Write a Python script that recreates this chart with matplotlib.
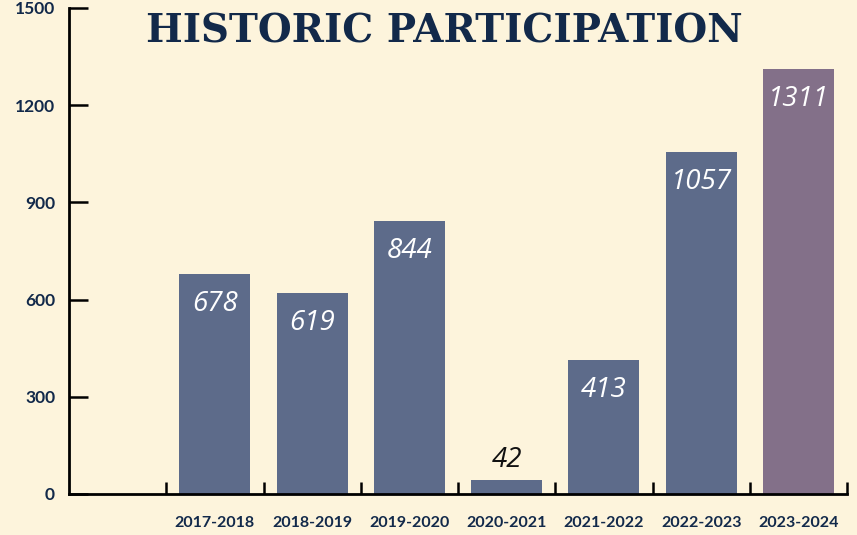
import matplotlib
matplotlib.use("Agg")
from matplotlib import pyplot as plt
from matplotlib.ticker import FixedLocator

seasons = ["2017-2018", "2018-2019", "2019-2020", "2020-2021", "2021-2022", "2022-2023", "2023-2024"]
participants = [678, 619, 844, 42, 413, 1057, 1311]
y_ticks = [0, 300, 600, 900, 1200, 1500]

bg = "#FDF4DC"
navy = "#12294A"
bar_blue = "#5D6B8A"
bar_purple = "#837089"

fig = plt.figure(figsize=(8.57, 5.35), dpi=100, facecolor=bg)
ax = fig.add_axes([69 / 857, 1 - 494 / 535, 778 / 857, 486 / 535])
ax.set_facecolor(bg)

positions = list(range(1, len(seasons) + 1))
colors = [bar_blue] * (len(seasons) - 1) + [bar_purple]
ax.bar(positions, participants, width=0.73, color=colors, zorder=2)

# value labels: inside the bar in white, above it when the bar is too short
for pos, val in zip(positions, participants):
    if val > 200:
        ax.annotate(str(val), (pos, val), xytext=(0, -30), textcoords="offset pixels",
                    ha="center", va="center", color="white", fontsize=20,
                    style="italic", family="Open Sans")
    else:
        ax.annotate(str(val), (pos, val), xytext=(0, 20), textcoords="offset pixels",
                    ha="center", va="center", color="#111111", fontsize=20,
                    style="italic", family="Open Sans")

ax.set_xlim(-0.5, 7.5)
ax.set_ylim(0, 1500)

for side in ("top", "right"):
    ax.spines[side].set_visible(False)
for side in ("left", "bottom"):
    ax.spines[side].set_linewidth(2)
    ax.spines[side].set_color("black")
    ax.spines[side].set_zorder(3)

ax.set_yticks(y_ticks)
ax.tick_params(axis="y", direction="in", length=14, width=1.8, pad=10,
               labelsize=12.5, labelcolor=navy)
for lbl in ax.get_yticklabels():
    lbl.set_fontweight("bold")
    lbl.set_family("Lato")

ax.set_xticks(positions)
ax.set_xticklabels(seasons)
ax.tick_params(axis="x", which="major", length=0, pad=16, labelsize=11.5, labelcolor=navy)
for lbl in ax.get_xticklabels():
    lbl.set_fontweight("bold")
    lbl.set_family("Lato")
ax.xaxis.set_minor_locator(FixedLocator([p + 0.5 for p in range(0, 8)]))
ax.tick_params(axis="x", which="minor", direction="in", length=9, width=1.8)

fig.text(0.519, 0.942, "HISTORIC PARTICIPATION", ha="center", va="center",
         fontsize=28, fontweight="bold", family="DejaVu Serif", color=navy)

fig.savefig("out.png", dpi=100, facecolor=bg)
